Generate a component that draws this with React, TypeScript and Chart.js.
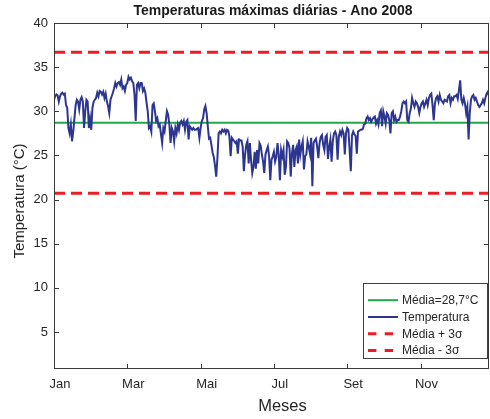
import { useEffect, useRef } from "react";
import { Chart, registerables } from "chart.js";

Chart.register(...registerables);

// Temperatura máxima diária (°C), 1 de janeiro em diante
const temperaturas: number[] = [
  // jan-mar
  31.3, 31.7, 31.9, 31.8, 31.1, 31.7, 32.0, 32.1, 31.9, 32.0,
  30.7, 30.4, 28.1, 27.5, 28.5, 26.6, 27.7, 29.2, 30.7, 31.3,
  31.1, 30.2, 31.3, 31.6, 31.1, 28.1, 30.0, 31.3, 31.1, 28.1,
  29.2, 27.9, 30.4, 31.1, 31.3, 31.5, 32.1, 31.7, 32.3, 32.2,
  31.9, 32.2, 31.5, 32.0, 31.1, 30.6, 29.8, 31.3, 31.7, 32.1,
  32.6, 33.2, 32.8, 33.2, 33.3, 33.0, 33.6, 32.6, 32.8, 32.3,
  33.0, 33.2, 33.9, 33.6, 33.8, 33.4, 33.2, 31.9, 28.9, 33.0,
  33.2, 32.6,
  // mar-mai
  33.2, 33.2, 32.3, 32.6, 32.1, 31.0, 30.0, 28.1, 28.3, 27.7,
  30.7, 30.9, 30.0, 28.9, 29.2, 28.3, 28.5, 27.4, 26.4, 28.1,
  27.7, 28.9, 30.0, 29.6, 28.5, 26.4, 28.1, 27.7, 26.6, 28.1,
  27.5, 28.5, 27.9, 28.7, 28.9, 28.5, 28.9, 27.9, 28.8, 29.0,
  26.8, 28.3, 28.1, 27.9, 28.1, 27.9, 27.9, 28.0, 28.1, 27.0,
  28.1, 28.9, 29.2, 30.2, 30.6, 29.8, 28.3, 26.9, 27.0, 26.2,
  25.3, 24.8, 23.8, 22.6, 24.7, 27.5, 27.7, 27.5, 27.9, 27.7,
  27.9, 27.5,
  // mai-ago
  27.9, 27.8, 27.1, 24.9, 27.0, 26.8, 26.6, 26.4, 26.6, 25.2,
  26.8, 26.7, 26.7, 26.0, 23.2, 25.1, 26.2, 26.6, 24.1, 26.4,
  24.5, 23.0, 23.7, 25.4, 23.5, 25.6, 24.1, 26.4, 26.1, 25.1,
  24.3, 23.0, 25.1, 25.6, 26.0, 24.9, 22.2, 24.5, 24.9, 25.4,
  24.3, 24.8, 26.4, 25.1, 22.2, 25.6, 24.9, 25.6, 22.8, 23.7,
  26.6, 26.4, 25.8, 22.6, 25.2, 26.2, 23.7, 25.6, 26.0, 24.1,
  26.8, 25.1, 26.0, 26.6, 23.4, 24.9, 25.1, 26.6, 26.0, 25.2,
  27.0, 21.5,
  // ago-out
  26.4, 26.7, 26.9, 26.0, 24.7, 26.4, 27.1, 27.3, 26.2, 25.6,
  27.1, 27.3, 24.6, 26.0, 26.8, 24.3, 26.6, 27.5, 27.7, 27.3,
  24.5, 27.1, 27.7, 27.3, 27.9, 27.5, 25.1, 27.5, 28.1, 27.9,
  25.6, 23.2, 27.3, 27.7, 27.4, 27.2, 25.2, 27.7, 27.8, 27.9,
  27.9, 28.0, 28.5, 28.6, 29.2, 29.4, 29.0, 29.2, 28.8, 29.1,
  29.3, 29.4, 28.6, 29.0, 28.5, 29.8, 30.1, 28.3, 30.0, 29.4,
  28.6, 29.8, 29.6, 29.0, 27.5, 29.8, 30.0, 29.0, 29.4, 28.8,
  29.0, 29.0,
  // out-dez
  29.4, 30.0, 30.9, 31.1, 30.9, 31.1, 29.0, 28.8, 29.8, 30.3,
  31.5, 30.9, 30.5, 31.1, 30.9, 30.5, 29.8, 30.5, 30.9, 31.1,
  30.5, 30.9, 31.3, 30.7, 31.5, 31.85, 32.0, 30.7, 29.0, 30.9,
  31.5, 31.7, 31.1, 31.85, 31.3, 31.1, 30.9, 31.3, 31.2, 31.1,
  31.7, 31.85, 30.9, 31.5, 31.3, 31.7, 31.7, 31.85, 31.4, 32.4,
  33.5, 31.3, 30.9, 31.5, 30.9, 29.8, 30.5, 26.8, 29.8, 31.3,
  31.7, 31.85, 31.3, 31.5, 31.1, 30.7, 30.5, 30.7, 30.9, 31.3,
  30.9, 31.5, 32.0, 32.2, 31.7,
];

const media = 28.7;
const mediaMais3Sigma = 36.7;
const mediaMenos3Sigma = 20.7;

const legendas = ["Média=28,7°C", "Temperatura", "Média + 3σ", "Média - 3σ"];

const diasTicks = [0, 61, 122, 183, 244, 305];
const mesesLabels = ["Jan", "Mar", "Mai", "Jul", "Set", "Nov"];
const yTicks = [5, 10, 15, 20, 25, 30, 35, 40];

const FONTE = '"Liberation Sans", Arial, Helvetica, sans-serif';
const COR_EIXO = "#3a3a3a";
const COR_TEXTO = "#262626";
const VERDE = "#22a84a";
const AZUL = "#2c3590";
const VERMELHO = "#ec1c24";

const diaFinal = temperaturas.length - 1;

const linhaHorizontal = (valor: number) => [
  { x: 0, y: valor },
  { x: diaFinal, y: valor },
];

// Moldura com marcas internas, títulos e legenda no estilo da figura
const molduraPlugin = {
  id: "moldura",
  afterDraw(chart: any) {
    const { ctx, chartArea: a, scales } = chart;
    const xs = scales.x;
    const ys = scales.y;
    ctx.save();

    // caixa dos eixos
    ctx.strokeStyle = COR_EIXO;
    ctx.lineWidth = 1;
    ctx.setLineDash([]);
    ctx.strokeRect(a.left + 0.5, a.top + 0.5, a.right - a.left - 1, a.bottom - a.top - 1);

    const marca = 5;
    ctx.beginPath();
    xs.ticks.forEach((t: any) => {
      const px = Math.round(xs.getPixelForValue(t.value)) + 0.5;
      ctx.moveTo(px, a.bottom);
      ctx.lineTo(px, a.bottom - marca);
      ctx.moveTo(px, a.top);
      ctx.lineTo(px, a.top + marca);
    });
    ys.ticks.forEach((t: any) => {
      const py = Math.round(ys.getPixelForValue(t.value)) + 0.5;
      ctx.moveTo(a.left, py);
      ctx.lineTo(a.left + marca, py);
      ctx.moveTo(a.right, py);
      ctx.lineTo(a.right - marca, py);
    });
    ctx.stroke();

    // título
    ctx.fillStyle = "#1a1a1a";
    ctx.font = `bold 14px ${FONTE}`;
    ctx.textAlign = "center";
    ctx.textBaseline = "middle";
    ctx.fillText("Temperaturas máximas diárias - Ano 2008", 273, 11.5);

    // rótulos dos eixos
    ctx.fillStyle = COR_TEXTO;
    ctx.font = `16.5px ${FONTE}`;
    ctx.fillText("Meses", 282.5, 406);
    ctx.font = `15px ${FONTE}`;
    ctx.save();
    ctx.translate(20, 201);
    ctx.rotate(-Math.PI / 2);
    ctx.fillText("Temperatura (°C)", 0, 0);
    ctx.restore();

    // legenda
    const lx = 363;
    const ly = 283;
    const lw = 125;
    const lh = 76;
    ctx.fillStyle = "#ffffff";
    ctx.fillRect(lx, ly, lw, lh);
    ctx.strokeStyle = "#404040";
    ctx.lineWidth = 1;
    ctx.strokeRect(lx + 0.5, ly + 0.5, lw - 1, lh - 1);
    ctx.font = `12px ${FONTE}`;
    ctx.textAlign = "left";
    ctx.textBaseline = "middle";
    chart.data.datasets.forEach((ds: any, i: number) => {
      const ry = ly + 17.2 + i * 16.8;
      ctx.beginPath();
      ctx.strokeStyle = ds.borderColor;
      ctx.lineWidth = ds.borderWidth;
      ctx.setLineDash(ds.borderDash && ds.borderDash.length ? [8.4, 8.3] : []);
      ctx.moveTo(368, ry);
      ctx.lineTo(398, ry);
      ctx.stroke();
      ctx.setLineDash([]);
      ctx.fillStyle = COR_TEXTO;
      ctx.fillText(ds.label, 402, ry + 0.5);
    });

    ctx.restore();
  },
};

export default function App() {
  const canvasRef = useRef<HTMLCanvasElement | null>(null);

  useEffect(() => {
    if (!canvasRef.current) return;
    const chart = new Chart(canvasRef.current, {
      type: "line",
      data: {
        datasets: [
          {
            label: legendas[0],
            data: linhaHorizontal(media),
            borderColor: VERDE,
            borderWidth: 2,
            pointRadius: 0,
            order: 1,
          },
          {
            label: legendas[1],
            data: temperaturas.map((t, i) => ({ x: i, y: t })),
            borderColor: AZUL,
            borderWidth: 2,
            pointRadius: 0,
            tension: 0,
            order: 0,
          },
          {
            label: legendas[2],
            data: linhaHorizontal(mediaMais3Sigma),
            borderColor: VERMELHO,
            borderWidth: 3,
            borderDash: [11, 6],
            pointRadius: 0,
            order: 2,
          },
          {
            label: legendas[3],
            data: linhaHorizontal(mediaMenos3Sigma),
            borderColor: VERMELHO,
            borderWidth: 3,
            borderDash: [11, 6],
            pointRadius: 0,
            order: 2,
          },
        ],
      },
      options: {
        animation: false,
        responsive: true,
        maintainAspectRatio: false,
        layout: { padding: { top: 23, right: 1, left: 0, bottom: 0 } },
        plugins: {
          legend: { display: false },
          title: { display: false },
          tooltip: { enabled: false },
        },
        scales: {
          x: {
            type: "linear",
            min: 0,
            max: diaFinal,
            afterBuildTicks: (axis: any) => {
              axis.ticks = diasTicks.map((v) => ({ value: v }));
            },
            afterFit: (s: any) => {
              s.height = 50;
            },
            grid: { display: false, drawTicks: false },
            border: { display: false },
            ticks: {
              autoSkip: false,
              maxRotation: 0,
              padding: 8,
              labelOffset: 6,
              color: COR_TEXTO,
              font: { family: FONTE, size: 13 },
              callback: (v: any) => {
                const i = diasTicks.indexOf(Number(v));
                return i >= 0 ? mesesLabels[i] : "";
              },
            },
          },
          y: {
            type: "linear",
            min: 0.8,
            max: 40,
            afterBuildTicks: (axis: any) => {
              axis.ticks = yTicks.map((v) => ({ value: v }));
            },
            afterFit: (s: any) => {
              s.width = 54;
            },
            grid: { display: false, drawTicks: false },
            border: { display: false },
            ticks: {
              padding: 6,
              color: COR_TEXTO,
              font: { family: FONTE, size: 13 },
            },
          },
        },
      },
      plugins: [molduraPlugin],
    });
    return () => chart.destroy();
  }, []);

  return (
    <div style={{ position: "absolute", left: 0, top: 0, width: 490, height: 419, background: "#fff" }}>
      <canvas ref={canvasRef} />
    </div>
  );
}
